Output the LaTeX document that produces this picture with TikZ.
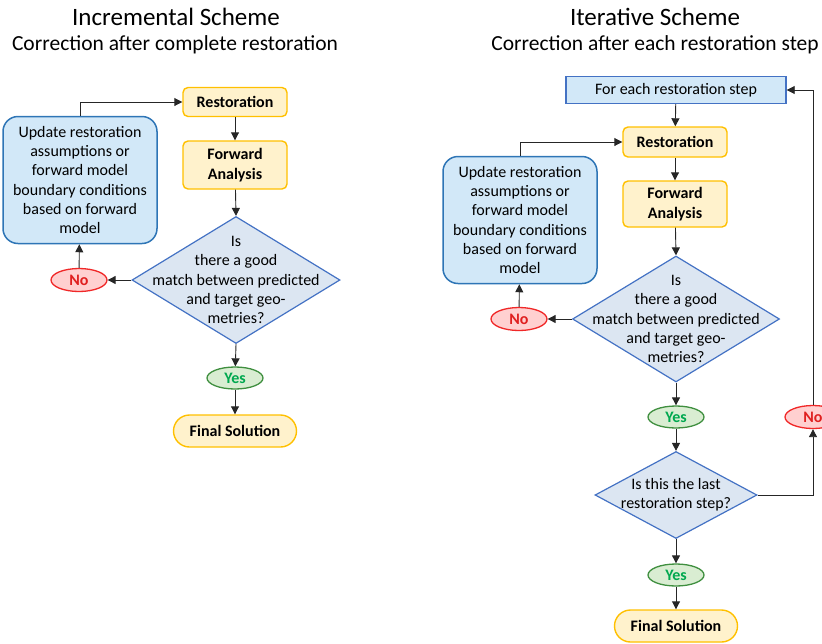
\documentclass[tikz,border=0pt]{standalone}
\usepackage{fontspec}
\setmainfont{Carlito}
\usetikzlibrary{shapes.geometric,arrows.meta}

\definecolor{ylfill}{HTML}{FFF2CC}
\definecolor{ylline}{HTML}{FFC000}
\definecolor{bufill}{HTML}{D2E8F8}
\definecolor{buline}{HTML}{2E75B6}
\definecolor{dmfill}{HTML}{DCE6F2}
\definecolor{dmline}{HTML}{4472C4}
\definecolor{gnfill}{HTML}{D9EDD2}
\definecolor{gnline}{HTML}{3F8F3F}
\definecolor{gntext}{HTML}{00A84F}
\definecolor{rdfill}{HTML}{FFD0D0}
\definecolor{rdline}{HTML}{F02828}
\definecolor{rdtext}{HTML}{E02020}

\begin{document}
\begin{tikzpicture}[x=1pt,y=-1pt,
		font=\fontsize{16}{19.3}\selectfont,
		every node/.style={align=center,inner sep=0pt},
		arr/.style={-{Triangle[length=8pt,width=8pt]},line width=0.9pt,black!85},
		stepbox/.style={draw=ylline,fill=ylfill,line width=1.4pt,rounded corners=5pt,minimum width=104pt,font=\fontsize{16}{19.3}\selectfont\bfseries},
		finbox/.style={draw=ylline,fill=ylfill,line width=1.4pt,rounded corners=16pt,minimum width=123pt,minimum height=32pt,font=\fontsize{16}{19.3}\selectfont\bfseries},
		updbox/.style={draw=buline,fill=bufill,line width=1.5pt,rounded corners=15pt,minimum width=154pt,minimum height=127pt},
		loopbox/.style={draw=dmline,fill=bufill,line width=1.4pt,minimum width=220pt,minimum height=27pt},
		decision/.style={diamond,draw=dmline,fill=dmfill,line width=1.2pt},
		yesnode/.style={ellipse,draw=gnline,fill=gnfill,line width=1.3pt,minimum width=56pt,minimum height=22pt,text=gntext,font=\fontsize{16}{19.3}\selectfont\bfseries},
		nonode/.style={ellipse,draw=rdline,fill=rdfill,line width=1.3pt,minimum width=56pt,minimum height=23pt,text=rdtext,font=\fontsize{16}{19.3}\selectfont\bfseries}
	]
	\useasboundingbox (0,0) rectangle (822,643);

	% incremental scheme
	\node (t1) at (176,17) {\fontsize{25}{29}\selectfont Incremental Scheme};
	\node (s1) at (175,45) {\fontsize{21.5}{25}\selectfont Correction after complete restoration};

	\node[stepbox,minimum height=29pt] (rest1) at (235,102) {Restoration};
	\node[stepbox,minimum height=48pt] (fwd1) at (235,165) {Forward\\Analysis};
	\node[decision,minimum width=208pt,minimum height=127pt,
		label={center:{Is\\there a good\\match between predicted\\and target geo-\\metries?}}] (q1) at (236,280) {};
	\node[yesnode] (yes1) at (235,378) {Yes};
	\node[finbox] (fin1) at (235,431) {Final Solution};
	\node[nonode] (no1) at (79,280) {No};
	\node[updbox] (upd1) at (80,180) {Update restoration\\assumptions or\\forward model\\boundary conditions\\based on forward\\model};

	\draw[arr] (rest1) -- (fwd1);
	\draw[arr] (fwd1) -- (q1.north);
	\draw[arr] (q1.south) -- (yes1);
	\draw[arr] (yes1) -- (fin1);
	\draw[arr] (q1.west) -- (no1);
	\draw[arr] (no1) -- (upd1);
	\draw[arr] (upd1.north) |- (rest1.west);

	% iterative scheme
	\node (t2) at (655,17) {\fontsize{25}{29}\selectfont Iterative Scheme};
	\node (s2) at (655,45) {\fontsize{21.5}{25}\selectfont Correction after each restoration step};

	\node[loopbox] (each) at (676,90) {For each restoration step};
	\node[stepbox,minimum height=30pt] (rest2) at (675,142) {Restoration};
	\node[stepbox,minimum height=46pt] (fwd2) at (675,204) {Forward\\Analysis};
	\node[decision,minimum width=207pt,minimum height=126pt,
		label={center:{Is\\there a good\\match between predicted\\and target geo-\\metries?}}] (q2) at (676,319) {};
	\node[yesnode] (yes2) at (676,417) {Yes};
	\node[decision,minimum width=162pt,minimum height=87pt,
		label={center:{Is this the last\\restoration step?}}] (q3) at (676,495) {};
	\node[yesnode] (yes3) at (676,575) {Yes};
	\node[finbox] (fin2) at (676,626) {Final Solution};
	\node[nonode] (no2) at (519,319) {No};
	\node[updbox] (upd2) at (520,220) {Update restoration\\assumptions or\\forward model\\boundary conditions\\based on forward\\model};
	\node[nonode] (no3) at (813,417) {No};

	\draw[arr] (each) -- (rest2);
	\draw[arr] (rest2) -- (fwd2);
	\draw[arr] (fwd2) -- (q2.north);
	\draw[arr] (q2.south) -- (yes2);
	\draw[arr] (yes2) -- (q3.north);
	\draw[arr] (q3.south) -- (yes3);
	\draw[arr] (yes3) -- (fin2);
	\draw[arr] (q2.west) -- (no2);
	\draw[arr] (no2) -- (upd2);
	\draw[arr] (upd2.north) |- (rest2.west);
	\draw[arr] (q3.east) -| (no3.south);
	\draw[arr] (no3.north) |- (each.east);
\end{tikzpicture}
\end{document}
